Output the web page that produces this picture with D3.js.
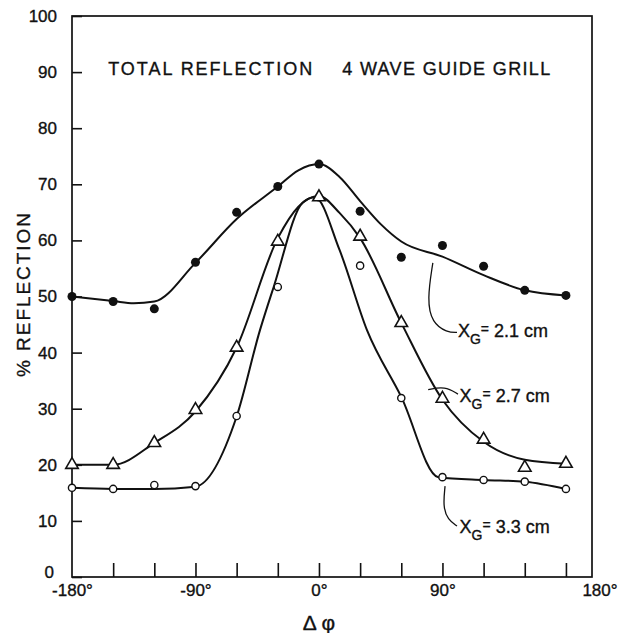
<!DOCTYPE html>
<html>
<head>
<meta charset="utf-8">
<script src="https://cdn.jsdelivr.net/npm/d3@7"></script>
<style>
  body { margin: 0; background: #fff; }
  text { font-family: "Liberation Sans", Arial, sans-serif; fill: #111; stroke: #111; stroke-width: 0.35px; }
</style>
</head>
<body>
<script>
// measured points, phase difference in degrees
var angles = [-180, -150, -120, -90, -60, -30, 0, 30, 60, 90, 120, 150, 180];
var xg21 = [50, 49.1, 47.8, 56.1, 65, 69.6, 73.6, 65.2, 57, 59.1, 55.4, 51.1, 50.2];
var xg27 = [20, 20, 23.9, 29.8, 40.9, 59.8, 67.7, 60.7, 45.3, 31.8, 24.5, 19.5, 20.2];
var xg33 = [15.9, 15.7, 16.4, 16.2, 28.7, 51.7, 67.7, 55.5, 31.9, 17.8, 17.3, 17, 15.7];

// hand drawn fitted curves
var fit21Angles = [-180, -150, -135, -120, -90, -60, -30, -15, 0, 15, 30, 45, 60, 90, 120, 150, 180];
var fit21 = [50, 49.2, 48.8, 49.1, 56, 63.8, 69.6, 72.5, 73.6, 71.3, 67, 62.9, 59.8, 57.1, 53.8, 51.1, 50.2];
var fit27Angles = [-180, -150, -120, -90, -60, -30, -15, 0, 15, 30, 60, 90, 120, 150, 180];
var fit27 = [20, 20, 23.9, 29.5, 40.9, 60.4, 66, 67.9, 64.9, 60.4, 45.3, 31.6, 24.1, 20.9, 20.2];
var fit33Angles = [-180, -150, -120, -90, -60, -43, -33, -12, -3, 15, 35, 60, 87, 120, 150, 180];
var fit33 = [15.9, 15.7, 15.7, 16.1, 28.6, 44, 51.7, 66.7, 67.7, 58.3, 44, 32.1, 17.8, 17.3, 17, 15.7];

var yTicks = [0, 10, 20, 30, 40, 50, 60, 70, 80, 90, 100];
var xMinorTicks = [-150, -120, -90, -60, -30, 0, 30, 60, 90, 120, 150, 180];
var xLabels = [-180, -90, 0, 90];

var width = 618, height = 633;
var svg = d3.select("body").append("svg")
    .attr("width", width)
    .attr("height", height);

var x = d3.scaleLinear().domain([-180, 199]).range([72, 592]);
var y = d3.scaleLinear().domain([0, 100]).range([577, 16]);

// frame
svg.append("rect")
    .attr("x", x(-180)).attr("y", y(100))
    .attr("width", x(199) - x(-180)).attr("height", y(0) - y(100))
    .attr("fill", "none").attr("stroke", "#111").attr("stroke-width", 1.7);

// y axis
var yAxis = svg.append("g")
    .attr("transform", "translate(" + x(-180) + ",0)")
    .call(d3.axisLeft(y).tickValues(yTicks).tickSize(-10).tickSizeOuter(0).tickPadding(15));
yAxis.select(".domain").remove();
yAxis.selectAll("line").attr("stroke", "#111").attr("stroke-width", 1.6);
yAxis.selectAll("text").attr("font-size", 17).attr("font-family", "Liberation Sans").style("fill", "#111");
// the zero sits a little up and left so it clears -180°
yAxis.selectAll(".tick").filter(function(d) { return d === 0; })
    .select("text").attr("dx", -3).attr("dy", "0.05em");

// x axis ticks (inside) and labels
var xTickAxis = svg.append("g")
    .attr("transform", "translate(0," + y(0) + ")")
    .call(d3.axisBottom(x).tickValues(xMinorTicks).tickSize(-14).tickSizeOuter(0).tickFormat(""));
xTickAxis.select(".domain").remove();
xTickAxis.selectAll("line").attr("stroke", "#111").attr("stroke-width", 1.6);

var xLabelAxis = svg.append("g")
    .attr("transform", "translate(0," + y(0) + ")")
    .call(d3.axisBottom(x).tickValues(xLabels).tickSize(0).tickPadding(7)
        .tickFormat(function(d) { return (d < 0 ? "-" + (-d) : d) + "°"; }));
xLabelAxis.select(".domain").remove();
xLabelAxis.selectAll("text").attr("font-size", 17).attr("font-family", "Liberation Sans").style("fill", "#111");

svg.append("text")
    .attr("x", x(199) + 8).attr("y", y(0) + 7)
    .attr("dy", "0.71em")
    .attr("text-anchor", "middle")
    .attr("font-size", 17)
    .text("180°");

// axis titles
svg.append("text")
    .attr("transform", "translate(30," + 295 + ") rotate(-90)")
    .attr("text-anchor", "middle")
    .attr("font-size", 19)
    .attr("textLength", 164).attr("lengthAdjust", "spacing")
    .text("% REFLECTION");

svg.append("text")
    .attr("x", x(0)).attr("y", 630)
    .attr("text-anchor", "middle")
    .attr("font-size", 21)
    .text("Δ φ");

// title
svg.append("text")
    .attr("x", x(-153.6)).attr("y", y(89.5))
    .attr("font-size", 18)
    .attr("textLength", 204).attr("lengthAdjust", "spacing")
    .text("TOTAL REFLECTION");
svg.append("text")
    .attr("x", x(-153.6) + 234).attr("y", y(89.5))
    .attr("font-size", 18)
    .attr("textLength", 208).attr("lengthAdjust", "spacing")
    .text("4 WAVE GUIDE GRILL");

// fitted curves
var line = d3.line()
    .x(function(d) { return x(d[0]); })
    .y(function(d) { return y(d[1]); })
    .curve(d3.curveMonotoneX);

[[fit21Angles, fit21], [fit27Angles, fit27], [fit33Angles, fit33]].forEach(function(c) {
    svg.append("path")
        .attr("d", line(d3.zip(c[0], c[1])))
        .attr("fill", "none")
        .attr("stroke", "#111")
        .attr("stroke-width", 2);
});

// leader lines from curve to label, in data units
var leaders = [
    [[83, 56], [78.8, 49.4], [82.4, 45.3], [93.4, 43.6], [100.6, 43.6]],
    [[79.6, 33.4], [91.8, 34], [101.3, 32.6]],
    [[91.9, 16.2], [90.4, 12.5], [94, 10.2], [100.6, 9.1]]
];
var leaderLine = d3.line()
    .x(function(d) { return x(d[0]); })
    .y(function(d) { return y(d[1]); })
    .curve(d3.curveBasis);
leaders.forEach(function(l) {
    svg.append("path")
        .attr("d", leaderLine(l))
        .attr("fill", "none")
        .attr("stroke", "#111")
        .attr("stroke-width", 1.3);
});

// labels
var labels = [
    {text: "2.1 cm", ax: 101.3, ay: 42.8},
    {text: "2.7 cm", ax: 102.5, ay: 31.2},
    {text: "3.3 cm", ax: 102.5, ay: 7.8}
];
labels.forEach(function(l) {
    var t = svg.append("text")
        .attr("x", x(l.ax)).attr("y", y(l.ay))
        .attr("font-size", 18);
    t.append("tspan").text("X");
    t.append("tspan").attr("dy", 7).attr("font-size", 14).text("G");
    t.append("tspan").attr("dy", -10).attr("font-size", 14).text("=");
    t.append("tspan").attr("dy", 3).text(" " + l.text);
});

// markers
var pts21 = d3.zip(angles, xg21),
    pts27 = d3.zip(angles, xg27),
    pts33 = d3.zip(angles, xg33);

svg.selectAll("circle.xg21").data(pts21).enter().append("circle")
    .attr("class", "xg21")
    .attr("cx", function(d) { return x(d[0]); })
    .attr("cy", function(d) { return y(d[1]); })
    .attr("r", 4.5)
    .attr("fill", "#111");

svg.selectAll("circle.xg33").data(pts33).enter().append("circle")
    .attr("class", "xg33")
    .attr("cx", function(d) { return x(d[0]); })
    .attr("cy", function(d) { return y(d[1]); })
    .attr("r", 3.6)
    .attr("fill", "#fff")
    .attr("stroke", "#111")
    .attr("stroke-width", 1.4);

var tri = d3.symbol().type(d3.symbolTriangle).size(68);
svg.selectAll("path.xg27").data(pts27).enter().append("path")
    .attr("class", "xg27")
    .attr("transform", function(d) { return "translate(" + x(d[0]) + "," + y(d[1]) + ")"; })
    .attr("d", tri)
    .attr("fill", "#fff")
    .attr("stroke", "#111")
    .attr("stroke-width", 1.6);
</script>
</body>
</html>
